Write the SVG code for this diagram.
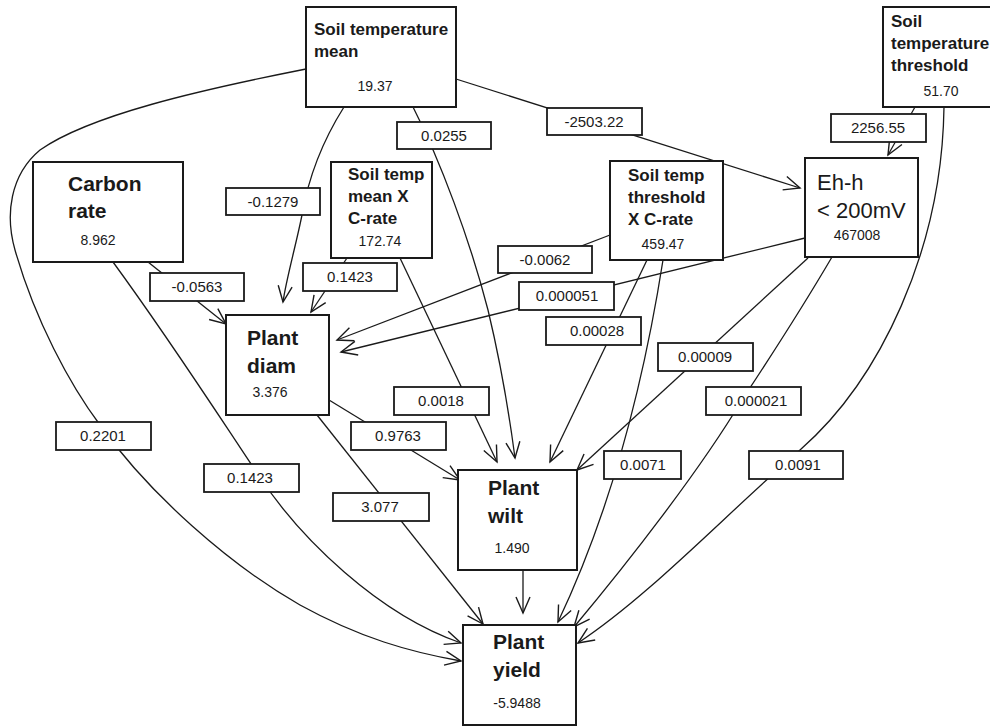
<svg xmlns="http://www.w3.org/2000/svg" width="990" height="726" viewBox="0 0 990 726">
<style>
.node rect{fill:#fff;stroke:#1a1a1a;stroke-width:2}
.lbl rect{fill:#fff;stroke:#1a1a1a;stroke-width:1.8}
.edge{fill:none;stroke:#1a1a1a;stroke-width:1.3;marker-end:url(#arr)}
text{font-family:"Liberation Sans",Arial,sans-serif;fill:#1a1a1a}
.t{font-size:17px;font-weight:bold}
.big{font-size:21px;font-weight:bold}
.v{font-size:14px;text-anchor:middle}
.l{font-size:15px;text-anchor:middle}
</style>
<defs>
<marker id="arr" viewBox="-18 -10 20 20" refX="0" refY="0" markerWidth="20" markerHeight="20" markerUnits="userSpaceOnUse" orient="auto">
<path d="M-16,-7 L0,0 L-16,7" fill="none" stroke="#1a1a1a" stroke-width="1.4"/>
</marker>
</defs>
<rect width="990" height="726" fill="#fff"/>
<g id="connectors">
<path class="edge" d="M306,69 C200,90 90,115 40,150 C10,175 5,215 15,250 C35,320 70,385 100,425 C150,495 230,565 300,605 C360,638 410,652 461,661"/>
<path class="edge" d="M344,107 C320,145 308,180 302,215 C296,245 286,280 283,302"/>
<path class="edge" d="M413,107 C440,160 470,240 488,310 C500,360 510,420 515,458"/>
<path class="edge" d="M347,258 L311,312"/>
<path class="edge" d="M400,258 L497,462"/>
<path class="edge" d="M148,262 L226,324"/>
<path class="edge" d="M113,262 C170,340 215,410 255,470 C300,540 380,615 461,643"/>
<path class="edge" d="M329,400 L460,480"/>
<path class="edge" d="M317,415 L483,624"/>
<path class="edge" d="M523,570 L523,613"/>
<path class="edge" d="M456,79 L800,188"/>
<path class="edge" d="M915,107 L888,155"/>
<path class="edge" d="M944,107 C942,250 880,380 800,450 C720,520 650,595 578,643"/>
<path class="edge" d="M832,257 C795,320 765,365 742,400 C700,470 630,560 574,627"/>
<path class="edge" d="M610,235 L337,340"/>
<path class="edge" d="M805,238 L341,352"/>
<path class="edge" d="M647,260 L550,462"/>
<path class="edge" d="M663,260 Q630,470 558,622"/>
<path class="edge" d="M808,258 L577,470"/>
<g class="lbl">
<rect x="397" y="122" width="94" height="27"/><text class="l" x="444" y="141">0.0255</text>
<rect x="226" y="188" width="94" height="27"/><text class="l" x="273" y="207">-0.1279</text>
<rect x="547" y="108" width="95" height="27"/><text class="l" x="594" y="127">-2503.22</text>
<rect x="831" y="114" width="95" height="28"/><text class="l" x="878" y="133">2256.55</text>
<rect x="150" y="273" width="94" height="28"/><text class="l" x="197" y="292">-0.0563</text>
<rect x="303" y="263" width="94" height="28"/><text class="l" x="350" y="282">0.1423</text>
<rect x="498" y="246" width="94" height="27"/><text class="l" x="545" y="265">-0.0062</text>
<rect x="519" y="282" width="95" height="28"/><text class="l" x="567" y="301">0.000051</text>
<rect x="546" y="317" width="95" height="28"/><text class="l" x="597" y="336">0.00028</text>
<rect x="658" y="343" width="95" height="28"/><text class="l" x="705" y="362">0.00009</text>
<rect x="706" y="387" width="95" height="28"/><text class="l" x="756" y="406">0.000021</text>
<rect x="604" y="451" width="77" height="28"/><text class="l" x="643" y="470">0.0071</text>
<rect x="749" y="451" width="94" height="28"/><text class="l" x="798" y="470">0.0091</text>
<rect x="394" y="387" width="95" height="28"/><text class="l" x="441" y="406">0.0018</text>
<rect x="351" y="422" width="95" height="28"/><text class="l" x="398" y="441">0.9763</text>
<rect x="56" y="422" width="95" height="28"/><text class="l" x="103" y="441">0.2201</text>
<rect x="204" y="464" width="95" height="28"/><text class="l" x="250" y="483">0.1423</text>
<rect x="333" y="493" width="96" height="28"/><text class="l" x="380" y="512">3.077</text>
</g>
</g>
<g id="soil-temp-mean" class="node">
<rect x="306" y="7" width="150" height="100"/>
<text class="t" x="314" y="35">Soil temperature</text>
<text class="t" x="314" y="57">mean</text>
<text class="v" x="375" y="91">19.37</text>
</g>
<g id="carbon-rate" class="node">
<rect x="33" y="162" width="150" height="100"/>
<text class="big" x="68" y="191">Carbon</text>
<text class="big" x="68" y="218">rate</text>
<text class="v" x="98" y="245">8.962</text>
</g>
<g id="soil-temp-mean-x-crate" class="node">
<rect x="331" y="162" width="101" height="96"/>
<text class="t" x="348" y="180">Soil temp</text>
<text class="t" x="348" y="202">mean X</text>
<text class="t" x="348" y="224">C-rate</text>
<text class="v" x="380" y="246">172.74</text>
</g>
<g id="soil-temp-threshold-x-crate" class="node">
<rect x="610" y="161" width="113" height="99"/>
<text class="t" x="628" y="181">Soil temp</text>
<text class="t" x="628" y="203">threshold</text>
<text class="t" x="628" y="225">X C-rate</text>
<text class="v" x="663" y="249">459.47</text>
</g>
<g id="eh-h" class="node">
<rect x="805" y="158" width="113" height="99"/>
<text x="817" y="190" style="font-size:22px">Eh-h</text>
<text x="817" y="218" style="font-size:22px">&lt; 200mV</text>
<text class="v" x="857" y="240">467008</text>
</g>
<g id="soil-temp-threshold" class="node">
<rect x="883" y="7" width="115" height="100"/>
<text class="t" x="891" y="27">Soil</text>
<text class="t" x="891" y="49">temperature</text>
<text class="t" x="891" y="71">threshold</text>
<text class="v" x="941" y="96">51.70</text>
</g>
<g id="plant-diam" class="node">
<rect x="226" y="315" width="103" height="100"/>
<text class="big" x="247" y="345">Plant</text>
<text class="big" x="247" y="373">diam</text>
<text class="v" x="270" y="397">3.376</text>
</g>
<g id="plant-wilt" class="node">
<rect x="458" y="470" width="119" height="100"/>
<text class="big" x="488" y="495">Plant</text>
<text class="big" x="488" y="523">wilt</text>
<text class="v" x="512" y="553">1.490</text>
</g>
<g id="plant-yield" class="node">
<rect x="463" y="625" width="113" height="100"/>
<text class="big" x="493" y="649">Plant</text>
<text class="big" x="493" y="677">yield</text>
<text class="v" x="517" y="708">-5.9488</text>
</g>
</svg>
